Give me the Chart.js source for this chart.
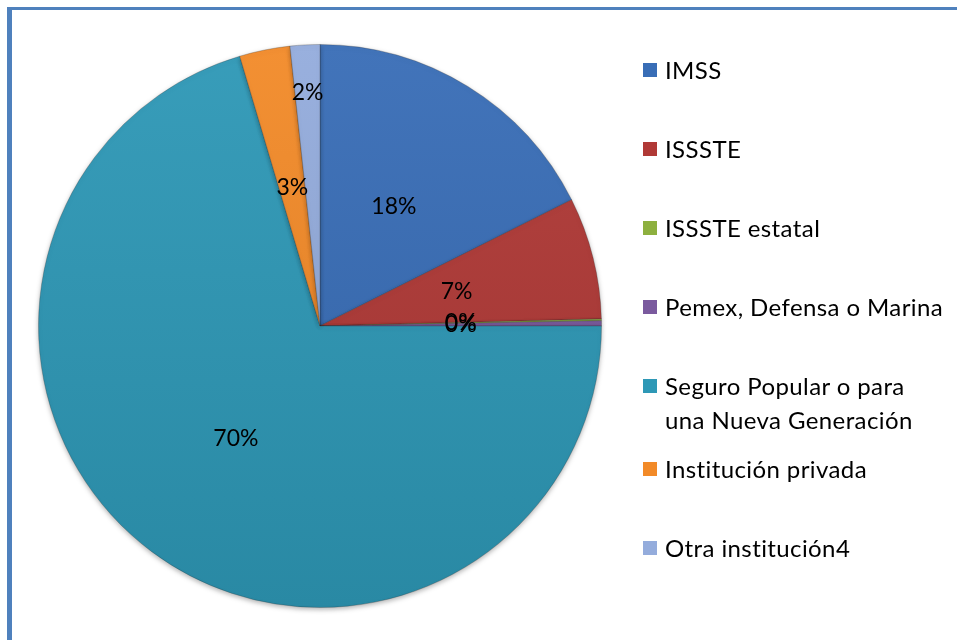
<!DOCTYPE html>
<html>
<head>
<meta charset="utf-8">
<script src="https://cdn.jsdelivr.net/npm/chart.js@4.4.1/dist/chart.umd.min.js"></script>
<style>
  html, body { margin: 0; padding: 0; background: #fff; }
  #wrap { position: relative; width: 957px; height: 640px; overflow: hidden; }
  #frame {
    position: absolute; left: 7px; top: 7px; width: 960px; height: 640px;
    border-left: 5px solid #4f81bd; border-top: 3px solid #4f81bd;
  }
  #legend {
    position: absolute; left: 643px; top: 53px;
    font-family: Lato, "Open Sans", sans-serif; font-size: 24px; letter-spacing: 0.4px; color: #000;
  }
  .item { display: flex; align-items: flex-start; line-height: 34px; }
  .box { width: 14px; height: 14px; margin: 10px 8px 0 0; flex: none; }
</style>
</head>
<body>
<div id="wrap">
  <div id="frame"></div>
  <canvas id="pieChart" width="957" height="640"></canvas>
  <div id="legend"></div>
</div>
<script>
// categorías y porcentajes
const categorias = [
  "IMSS",
  "ISSSTE",
  "ISSSTE estatal",
  "Pemex, Defensa o Marina",
  ["Seguro Popular o para", "una Nueva Generación"],
  "Institución privada",
  "Otra institución4"
];
const valores = [17.6, 7.0, 0.1, 0.3, 70.4, 2.9, 1.7];
const colores = ["#386db6", "#b03936", "#8db03f", "#7a5a9e", "#2e98b6", "#f28a28", "#94acdc"];

function shade(hex, amt) {
  const n = parseInt(hex.slice(1), 16);
  const f = c => Math.max(0, Math.min(255, Math.round(c + (amt > 0 ? (255 - c) : c) * amt)));
  return "rgb(" + f(n >> 16) + "," + f((n >> 8) & 255) + "," + f(n & 255) + ")";
}

// degradado vertical suave para imitar el relieve
function relleno(context) {
  const area = context.chart.chartArea;
  const base = colores[context.dataIndex];
  if (!area) return base;
  const g = context.chart.ctx.createLinearGradient(0, area.top, 0, area.bottom);
  g.addColorStop(0, shade(base, 0.05));
  g.addColorStop(1, shade(base, -0.1));
  return g;
}

// etiquetas de porcentaje dentro del pastel
const pctLabels = {
  id: "pctLabels",
  afterDatasetsDraw(chart) {
    const ctx = chart.ctx;
    const meta = chart.getDatasetMeta(0);
    const total = valores.reduce((a, b) => a + b, 0);
    ctx.save();
    ctx.font = "23px Lato, 'Open Sans', sans-serif";
    ctx.fillStyle = "#000";
    ctx.textAlign = "center";
    ctx.textBaseline = "middle";
    meta.data.forEach((arc, i) => {
      const p = arc.getProps(["x", "y", "startAngle", "endAngle", "outerRadius"], true);
      const mid = (p.startAngle + p.endAngle) / 2;
      const f = (p.endAngle - p.startAngle) < 0.15 && valores[i] > 1 ? 0.83 : 0.5;
      const r = p.outerRadius * f;
      ctx.fillText(Math.round(valores[i] / total * 100) + "%", p.x + Math.cos(mid) * r, p.y + Math.sin(mid) * r);
    });
    ctx.restore();
  }
};

// sombra ligera bajo el pastel
const sombra = {
  id: "sombra",
  beforeDatasetsDraw(chart) {
    const ctx = chart.ctx;
    ctx.save();
    ctx.shadowColor = "rgba(0,0,0,0.3)";
    ctx.shadowBlur = 5;
    ctx.shadowOffsetY = 2;
  },
  afterDatasetsDraw(chart) {
    chart.ctx.restore();
  }
};

const pieCtx = document.getElementById("pieChart").getContext("2d");
new Chart(pieCtx, {
  type: "pie",
  data: {
    labels: categorias,
    datasets: [{
      data: valores,
      backgroundColor: relleno,
      borderColor: "rgba(40,40,40,0.25)",
      borderWidth: 1
    }]
  },
  options: {
    responsive: false,
    animation: false,
    layout: { padding: { left: 38, top: 44, right: 355, bottom: 32 } },
    plugins: {
      legend: { display: false },
      tooltip: { enabled: false }
    }
  },
  plugins: [sombra, pctLabels]
});

// leyenda a la derecha
const legend = document.getElementById("legend");
categorias.forEach((c, i) => {
  const item = document.createElement("div");
  item.className = "item";
  const lines = Array.isArray(c) ? c : [c];
  item.style.marginBottom = (lines.length > 1 ? 15 : 45) + "px";
  const box = document.createElement("span");
  box.className = "box";
  box.style.background = colores[i];
  const txt = document.createElement("span");
  txt.innerHTML = lines.join("<br>");
  item.appendChild(box);
  item.appendChild(txt);
  legend.appendChild(item);
});
</script>
</body>
</html>
